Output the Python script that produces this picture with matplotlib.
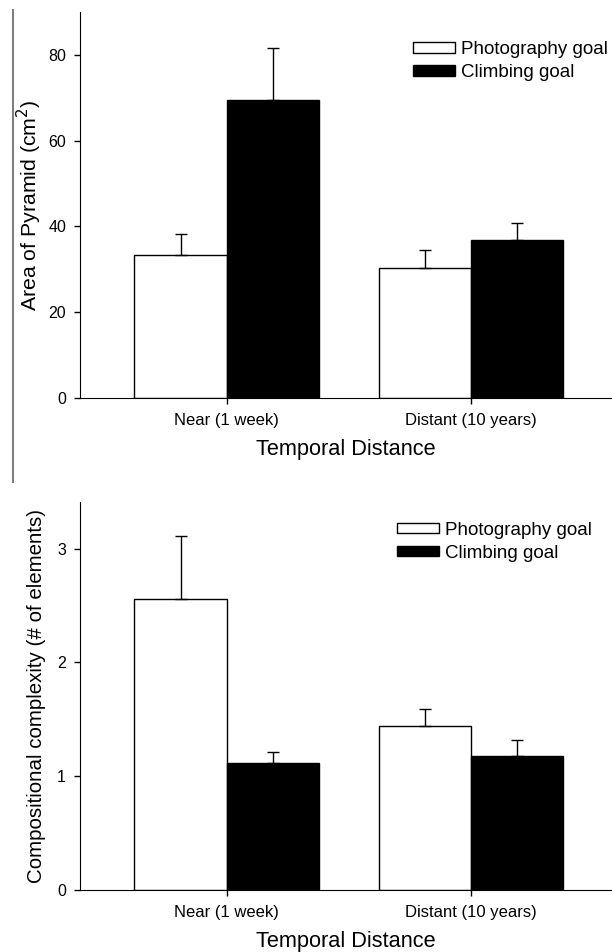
import numpy as np
import matplotlib.pyplot as plt
from matplotlib.lines import Line2D

plt.rcParams['font.family'] = ['Liberation Sans', 'DejaVu Sans']

categories = ['Near (1 week)', 'Distant (10 years)']
series = ['Photography goal', 'Climbing goal']

area_photo = [33.3, 30.2]
area_photo_err = [5.0, 4.3]
area_climb = [69.5, 36.8]
area_climb_err = [12.0, 4.0]

complex_photo = [2.56, 1.44]
complex_photo_err = [0.55, 0.15]
complex_climb = [1.12, 1.18]
complex_climb_err = [0.09, 0.14]

area_ticks = [0, 20, 40, 60, 80]
complex_ticks = [0, 1, 2, 3]


def draw_panel(ax, photo, photo_err, climb, climb_err, ylim, yticks, ylabel,
               ylabel_size, ylabel_pad, legend_xy):
    x = np.arange(len(categories))
    w = 0.377
    err_kw = {'ecolor': 'black', 'elinewidth': 1, 'capsize': 4,
              'capthick': 1}
    ax.bar(x - w / 2, photo, w, yerr=[np.zeros(len(photo)), photo_err],
           color='white', edgecolor='black', linewidth=1, error_kw=err_kw,
           label=series[0])
    ax.bar(x + w / 2, climb, w, yerr=[np.zeros(len(climb)), climb_err],
           color='black', edgecolor='black', linewidth=1, error_kw=err_kw,
           label=series[1])
    ax.set_xlim(-0.6, 1.578)
    ax.set_ylim(*ylim)
    ax.set_yticks(yticks)
    ax.set_xticks(x)
    ax.set_xticklabels(categories)
    ax.spines['top'].set_visible(False)
    ax.spines['right'].set_visible(False)
    ax.tick_params(axis='both', direction='out', length=4, width=1)
    ax.tick_params(axis='x', labelsize=12, pad=6.5)
    ax.tick_params(axis='y', labelsize=11.5, pad=6)
    ax.set_ylabel(ylabel, fontsize=ylabel_size, labelpad=ylabel_pad)
    ax.set_xlabel('Temporal Distance', fontsize=15.7, labelpad=8)
    ax.legend(loc='upper left', bbox_to_anchor=legend_xy,
              frameon=False, fontsize=13.5, handlelength=2.25,
              handleheight=0.5, handletextpad=0.3, labelspacing=0.32,
              borderaxespad=0, borderpad=0)


fig = plt.figure(figsize=(6.12, 9.52), dpi=100)
ax1 = fig.add_axes([0.1307, 0.5819, 0.8693, 0.4055])
ax2 = fig.add_axes([0.1307, 0.0651, 0.8693, 0.4076])

draw_panel(ax1, area_photo, area_photo_err, area_climb, area_climb_err,
           (0, 90), area_ticks, 'Area of Pyramid (cm$^2$)', 15.3, 3,
           (0.626, 0.924))
draw_panel(ax2, complex_photo, complex_photo_err, complex_climb,
           complex_climb_err, (0, 3.41), complex_ticks,
           'Compositional complexity (# of elements)', 14.8, 8,
           (0.596, 0.949))

# grey rule at the left edge of the page
fig.add_artist(Line2D([13 / 612, 13 / 612], [1 - 10 / 952, 1 - 482 / 952],
                      color='#7f7f7f', linewidth=1.5))

fig.savefig('out.png', dpi=100)
